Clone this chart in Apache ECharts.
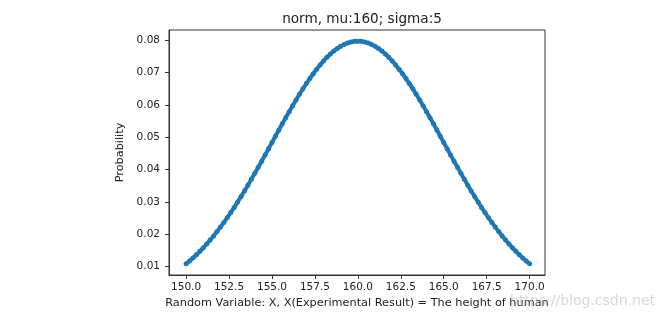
<!DOCTYPE html>
<html>
<head>
<meta charset="utf-8">
<script src="https://cdn.jsdelivr.net/npm/echarts@6/dist/echarts.min.js"></script>
<style>
html,body{margin:0;padding:0;background:#fff;}
#chart{width:665px;height:322px;}
</style>
</head>
<body>
<div id="chart"></div>
<script>
// Heights of humans (x) and probability density (y)
const xValues = [
150.0,150.2,150.4,150.6,150.8,151.0,151.2,151.4,151.6,151.8,
152.0,152.2,152.4,152.6,152.8,153.0,153.2,153.4,153.6,153.8,
154.0,154.2,154.4,154.6,154.8,155.0,155.2,155.4,155.6,155.8,
156.0,156.2,156.4,156.6,156.8,157.0,157.2,157.4,157.6,157.8,
158.0,158.2,158.4,158.6,158.8,159.0,159.2,159.4,159.6,159.8,
160.0,
160.2,160.4,160.6,160.8,161.0,161.2,161.4,161.6,161.8,162.0,
162.2,162.4,162.6,162.8,163.0,163.2,163.4,163.6,163.8,164.0,
164.2,164.4,164.6,164.8,165.0,165.2,165.4,165.6,165.8,166.0,
166.2,166.4,166.6,166.8,167.0,167.2,167.4,167.6,167.8,168.0,
168.2,168.4,168.6,168.8,169.0,169.2,169.4,169.6,169.8,170.0
];
const probValues = [
0.010798,0.011688,0.012631,0.013629,0.014681,0.015790,0.016956,0.018178,0.019457,0.020793,
0.022184,0.023631,0.025132,0.026686,0.028291,0.029945,0.031645,0.033388,0.035170,0.036988,
0.038837,0.040714,0.042613,0.044530,0.046458,0.048394,0.050329,0.052258,0.054173,0.056069,
0.057938,0.059775,0.061570,0.063318,0.065012,0.066645,0.068209,0.069699,0.071107,0.072427,
0.073654,0.074782,0.075806,0.076721,0.077524,0.078209,0.078774,0.079216,0.079534,0.079725,
0.079788,
0.079725,0.079534,0.079216,0.078774,0.078209,0.077524,0.076721,0.075806,0.074782,0.073654,
0.072427,0.071107,0.069699,0.068209,0.066645,0.065012,0.063318,0.061570,0.059775,0.057938,
0.056069,0.054173,0.052258,0.050329,0.048394,0.046458,0.044530,0.042613,0.040714,0.038837,
0.036988,0.035170,0.033388,0.031645,0.029945,0.028291,0.026686,0.025132,0.023631,0.022184,
0.020793,0.019457,0.018178,0.016956,0.015790,0.014681,0.013629,0.012631,0.011688,0.010798
];
const xTicks = [150.0,152.5,155.0,157.5,160.0,162.5,165.0,167.5,170.0];
const yTicks = [0.01,0.02,0.03,0.04,0.05,0.06,0.07,0.08];

const titleText = 'norm, mu:160; sigma:5';
const xName = 'Random Variable: X, X(Experimental Result) = The height of human';
const yName = 'Probability';

const FONT = '"DejaVu Sans", sans-serif';
const chart = echarts.init(document.getElementById('chart'), null, {renderer: 'canvas'});

const axisCommon = {
  axisLine: {show: true, lineStyle: {color: '#333', width: 1}},
  axisTick: {show: true, inside: false, length: 4, lineStyle: {color: '#333', width: 1}},
  splitLine: {show: false},
  nameTextStyle: {fontFamily: FONT, fontSize: 11.3, color: '#222'}
};

chart.setOption({
  animation: false,
  backgroundColor: '#fff',
  title: {
    text: titleText,
    left: 357, top: 7,
    textAlign: 'center',
    textStyle: {fontFamily: FONT, fontSize: 13.6, fontWeight: 'normal', color: '#222'}
  },
  grid: {left: 169, right: 120, top: 30, bottom: 47, containLabel: false,
         show: true, borderColor: '#333', borderWidth: 1},
  xAxis: Object.assign({}, axisCommon, {
    type: 'value',
    min: 149.005, max: 170.895,
    name: xName, nameLocation: 'middle', nameGap: 22,
    axisTick: Object.assign({}, axisCommon.axisTick, {customValues: xTicks}),
    axisLabel: {customValues: xTicks, margin: 7, fontFamily: FONT, fontSize: 10.5, color: '#222',
                formatter: v => v.toFixed(1)}
  }),
  yAxis: Object.assign({}, axisCommon, {
    type: 'value',
    min: 0.00735, max: 0.08324,
    name: yName, nameLocation: 'middle', nameGap: 38, nameRotate: 90,
    axisTick: Object.assign({}, axisCommon.axisTick, {customValues: yTicks}),
    axisLabel: {customValues: yTicks, margin: 9, fontFamily: FONT, fontSize: 10.5, color: '#222',
                formatter: v => v.toFixed(2)}
  }),
  graphic: [{
    type: 'text', right: 10, top: 294, z: 100, silent: true,
    style: {text: 'https://blog.csdn.net', fontFamily: FONT, fontSize: 14,
            fill: 'rgba(190,190,190,0.6)'}
  }],
  series: [{
    type: 'line',
    data: xValues.map((x, i) => [x, probValues[i]]),
    showSymbol: true, symbol: 'circle', symbolSize: 5,
    itemStyle: {color: '#1f77b4'},
    lineStyle: {color: '#1f77b4', width: 4},
    emphasis: {disabled: true}
  }]
});
</script>
</body>
</html>
